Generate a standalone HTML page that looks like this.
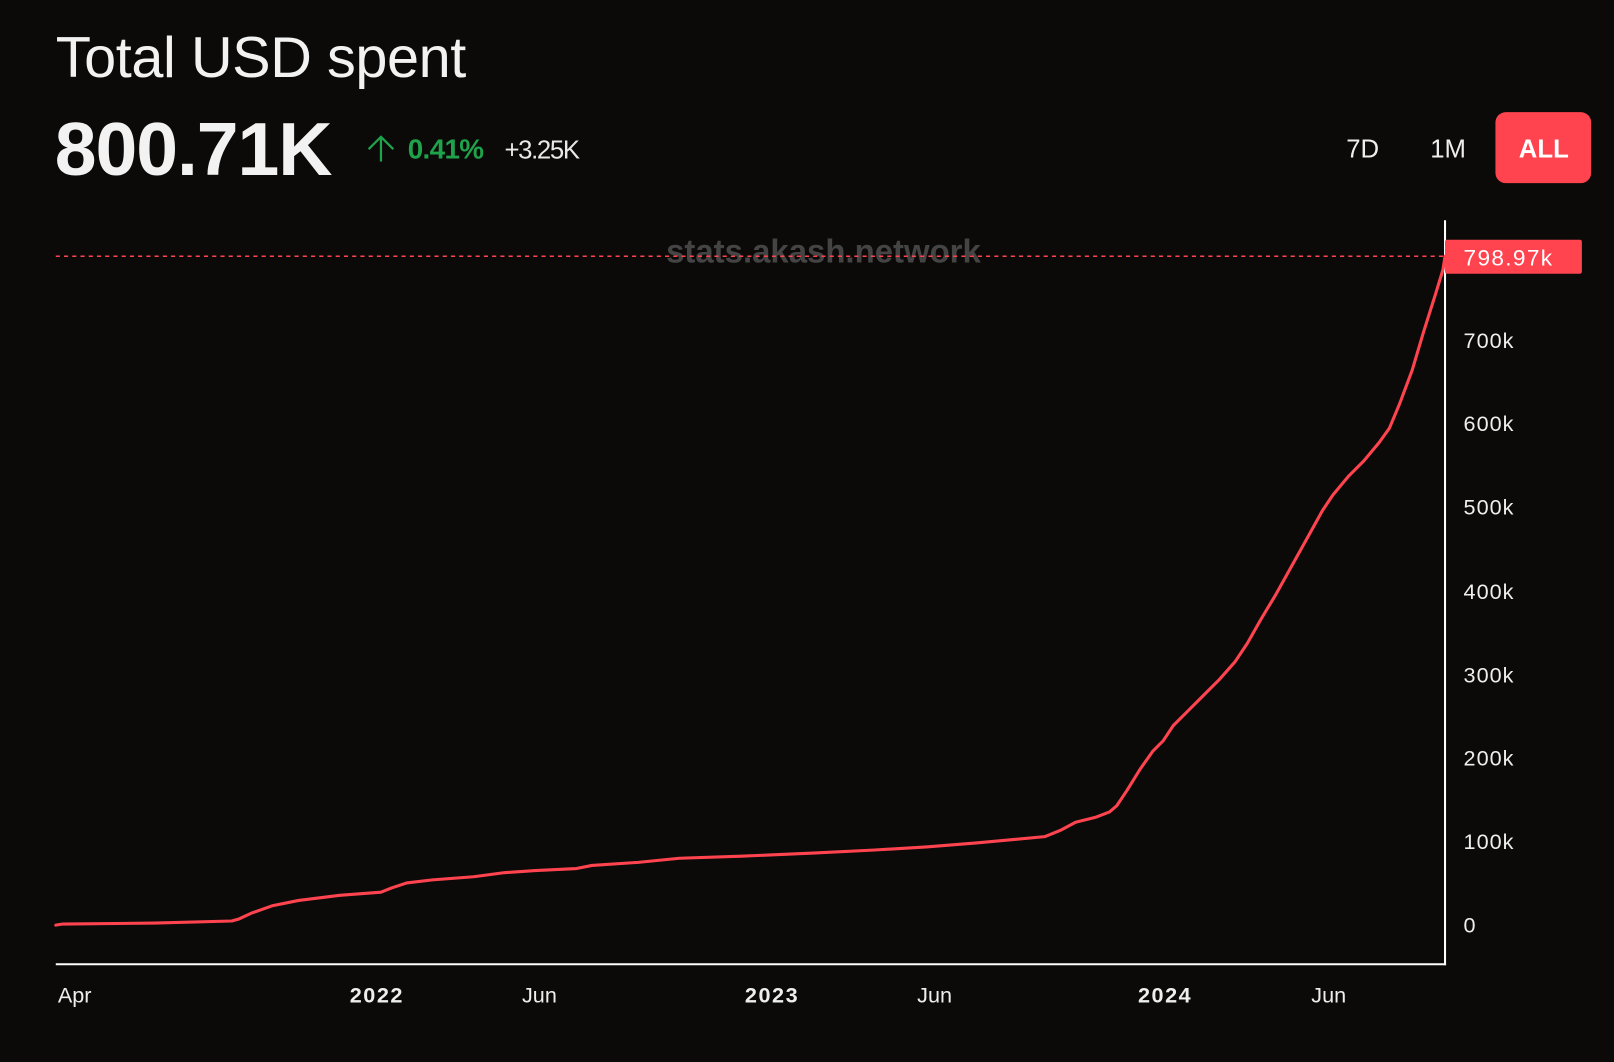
<!DOCTYPE html>
<html><head><meta charset="utf-8"><style>
html,body{margin:0;padding:0;background:#0b0a09;}
svg{display:block;}
text{font-family:"Liberation Sans",sans-serif;}
</style></head><body>
<svg width="1614" height="1062" viewBox="0 0 1568 1032" xmlns="http://www.w3.org/2000/svg">
<rect width="1568" height="1032" fill="#0b0a09"/>
<text x="54" y="75" font-size="56" fill="#f2f2f2" letter-spacing="-0.4">Total USD spent</text>
<text x="53" y="170" font-size="73" font-weight="bold" fill="#f2f2f2" letter-spacing="-1">800.71K</text>
<g stroke="#1fa34a" stroke-width="2.2" fill="none"><line x1="370" y1="133" x2="370" y2="157"/><polyline points="358,145 370,133 382,145"/></g>
<text x="396" y="154" font-size="27" font-weight="bold" fill="#1fa34a" letter-spacing="-0.6">0.41%</text>
<text x="490" y="154" font-size="25" fill="#e8e8e8" letter-spacing="-1.3">+3.25K</text>
<text x="1324" y="153" font-size="25" fill="#eee" text-anchor="middle">7D</text>
<text x="1407" y="153" font-size="25" fill="#eee" text-anchor="middle">1M</text>
<rect x="1453" y="109" width="93" height="69" rx="10" fill="#ff444f"/>
<text x="1500" y="153" font-size="25" font-weight="bold" fill="#fff" text-anchor="middle">ALL</text>
<text x="800" y="255" font-size="32" font-weight="bold" fill="#444" text-anchor="middle">stats.akash.network</text>
<line x1="54" y1="249" x2="1404" y2="249" stroke="#ff444f" stroke-width="1.5" stroke-dasharray="4,4"/>
<line x1="1404" y1="214" x2="1404" y2="938" stroke="#fff" stroke-width="2"/>
<line x1="54" y1="937" x2="1405" y2="937" stroke="#fff" stroke-width="2"/>
<rect x="1404" y="233" width="133" height="33" rx="2" fill="#ff444f"/>
<text x="1422" y="258" font-size="22" fill="#fff" letter-spacing="1.3">798.97k</text>
<g font-size="21" fill="#eee" letter-spacing="1">
<text x="1422" y="338">700k</text>
<text x="1422" y="419">600k</text>
<text x="1422" y="500">500k</text>
<text x="1422" y="582">400k</text>
<text x="1422" y="663">300k</text>
<text x="1422" y="744">200k</text>
<text x="1422" y="825">100k</text>
<text x="1422" y="906">0</text>
</g>
<g font-size="21" fill="#eee" text-anchor="middle">
<text x="56" y="974" text-anchor="start">Apr</text>
<text x="366" y="974" font-weight="bold" letter-spacing="1.5">2022</text>
<text x="524" y="974">Jun</text>
<text x="750" y="974" font-weight="bold" letter-spacing="1.5">2023</text>
<text x="908" y="974">Jun</text>
<text x="1132" y="974" font-weight="bold" letter-spacing="1.5">2024</text>
<text x="1291" y="974">Jun</text>
</g>
<polyline fill="none" stroke="#ff444f" stroke-width="3" stroke-linejoin="round" stroke-linecap="round" points="54,899 60,898 150,897 225,895 232,893 245,887 265,880 290,875 330,870 370,867 380,863 395,858 420,855 460,852 490,848 520,846 560,844 575,841 620,838 660,834 720,832 790,829 850,826 900,823 950,819 1015,813 1030,807 1045,799 1065,794 1078,789 1085,783 1095,768 1108,747 1120,730 1130,720 1140,705 1155,690 1170,675 1185,660 1200,643 1212,625 1225,602 1240,577 1255,550 1270,523 1285,496 1295,481 1310,463 1325,448 1340,430 1350,416 1360,392 1372,360 1383,323 1395,285 1402,262 1404,249"/>
</svg>
</body></html>
